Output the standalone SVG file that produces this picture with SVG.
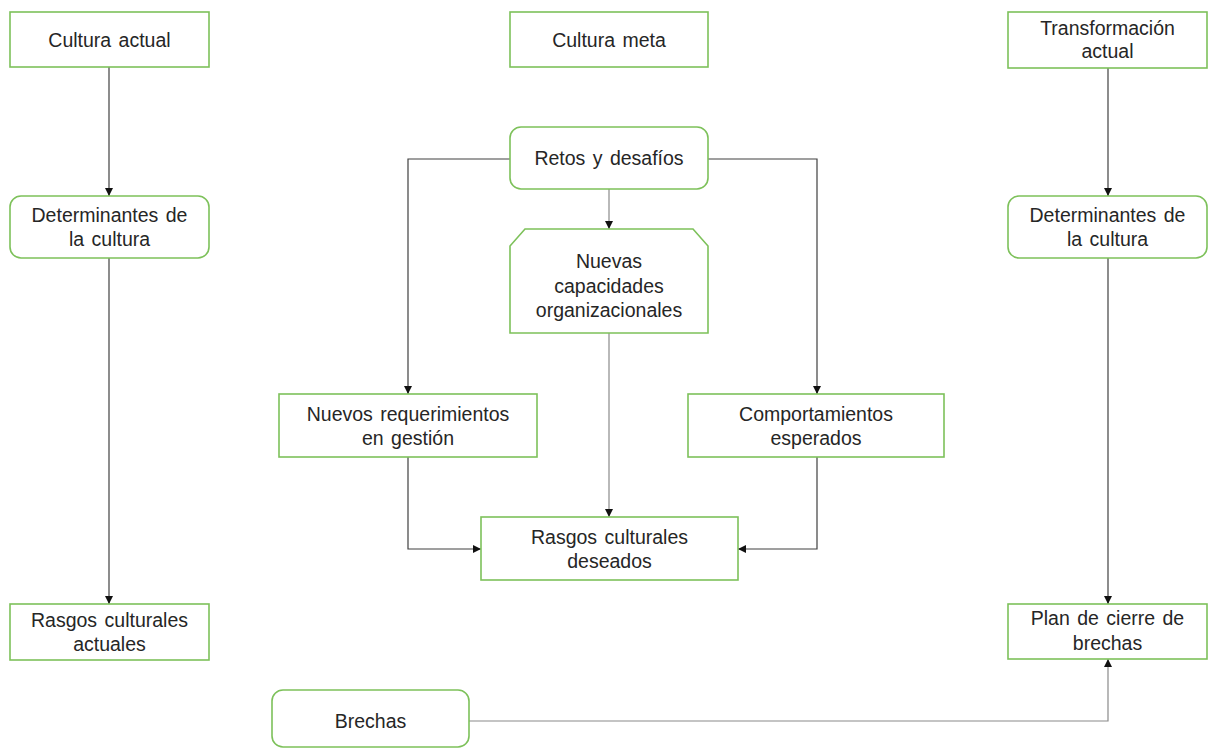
<svg xmlns="http://www.w3.org/2000/svg" width="1210" height="749" viewBox="0 0 1210 749">
<style>
.n{fill:#fff;stroke:#7dc15a;stroke-width:1.6}
.t{font-family:"Liberation Sans",Arial,sans-serif;font-size:19.5px;fill:#262626;text-anchor:middle;word-spacing:2px}
.c{fill:none;stroke:#404040;stroke-width:1.2}
.g{fill:none;stroke:#8a8a8a;stroke-width:1.2}
</style>
<defs>
<marker id="a" viewBox="0 0 10 10" refX="10" refY="5" markerWidth="8" markerHeight="8" markerUnits="userSpaceOnUse" orient="auto">
<path d="M0,0 L10,5 L0,10 z" fill="#111"/>
</marker>
</defs>
<rect width="1210" height="749" fill="#fff"/>
<g id="connectors">
<path class="c" d="M109,67 V196" marker-end="url(#a)"/>
<path class="c" d="M109,258 V604" marker-end="url(#a)"/>
<path class="c" d="M1108,68 V196" marker-end="url(#a)"/>
<path class="c" d="M1108,258 V604" marker-end="url(#a)"/>
<path class="c" d="M510,159 H408 V394" marker-end="url(#a)"/>
<path class="c" d="M708,159 H817 V394" marker-end="url(#a)"/>
<path class="g" d="M609,189 V229" marker-end="url(#a)"/>
<path class="g" d="M609,333 V517" marker-end="url(#a)"/>
<path class="c" d="M408,457 V549 H481" marker-end="url(#a)"/>
<path class="c" d="M817,457 V549 H738" marker-end="url(#a)"/>
<path class="g" d="M469,721 H1108 V659" marker-end="url(#a)"/>
</g>
<g id="cultura-actual"><rect class="n" x="10" y="12" width="199" height="55"/><text class="t" x="109.5" y="47">Cultura actual</text></g>
<g id="cultura-meta"><rect class="n" x="510" y="12" width="198" height="55"/><text class="t" x="609" y="47">Cultura meta</text></g>
<g id="transformacion-actual"><rect class="n" x="1008" y="12" width="199" height="56"/><text class="t" x="1107.5" y="35">Transformación</text><text class="t" x="1107.5" y="58">actual</text></g>
<g id="determinantes-izq"><rect class="n" x="10" y="196" width="199" height="62" rx="11"/><text class="t" x="109.5" y="222">Determinantes de</text><text class="t" x="109.5" y="246">la cultura</text></g>
<g id="determinantes-der"><rect class="n" x="1008" y="196" width="199" height="62" rx="11"/><text class="t" x="1107.5" y="222">Determinantes de</text><text class="t" x="1107.5" y="246">la cultura</text></g>
<g id="retos"><rect class="n" x="510" y="127" width="198" height="62" rx="11"/><text class="t" x="609" y="165">Retos y desafíos</text></g>
<g id="nuevas-capacidades"><path class="n" d="M525,229 H693 L708,246 V333 H510 V246 Z"/><text class="t" x="609" y="268">Nuevas</text><text class="t" x="609" y="292.5">capacidades</text><text class="t" x="609" y="317">organizacionales</text></g>
<g id="nuevos-requerimientos"><rect class="n" x="279" y="394" width="258" height="63"/><text class="t" x="408" y="421">Nuevos requerimientos</text><text class="t" x="408" y="445">en gestión</text></g>
<g id="comportamientos"><rect class="n" x="688" y="394" width="256" height="63"/><text class="t" x="816" y="421">Comportamientos</text><text class="t" x="816" y="445">esperados</text></g>
<g id="rasgos-deseados"><rect class="n" x="481" y="517" width="257" height="63"/><text class="t" x="609.5" y="543.5">Rasgos culturales</text><text class="t" x="609.5" y="568">deseados</text></g>
<g id="rasgos-actuales"><rect class="n" x="10" y="604" width="199" height="56"/><text class="t" x="109.5" y="627">Rasgos culturales</text><text class="t" x="109.5" y="651">actuales</text></g>
<g id="plan-cierre"><rect class="n" x="1008" y="604" width="199" height="55"/><text class="t" x="1107.5" y="625">Plan de cierre de</text><text class="t" x="1107.5" y="650">brechas</text></g>
<g id="brechas"><rect class="n" x="272" y="690" width="197" height="57" rx="11"/><text class="t" x="370.5" y="728">Brechas</text></g>
</svg>
